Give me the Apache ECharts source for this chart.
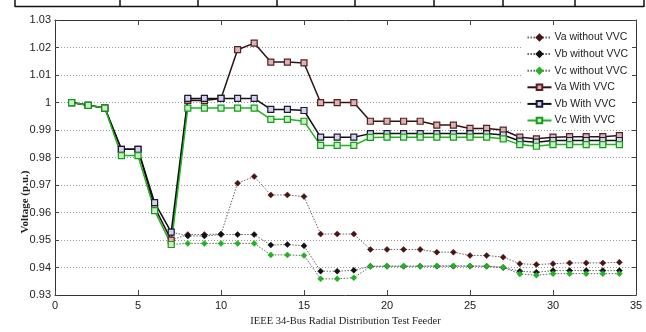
<!DOCTYPE html>
<html>
<head>
<meta charset="utf-8">
<script src="https://cdn.jsdelivr.net/npm/echarts@6/dist/echarts.min.js"></script>
<style>
html,body{margin:0;padding:0;background:#fff;}
#c{width:646px;height:332px;}
</style>
</head>
<body>
<div id="c"></div>
<script>
const buses = [1,2,3,4,5,6,7,8,9,10,11,12,13,14,15,16,17,18,19,20,21,22,23,24,25,26,27,28,29,30,31,32,33,34];
const seriesNames = ['Va without VVC','Vb without VVC','Vc without VVC','Va With VVC','Vb With VVC','Vc With VVC'];
const xTicks = [0,5,10,15,20,25,30,35];
const yTicks = [0.93,0.94,0.95,0.96,0.97,0.98,0.99,1.00,1.01,1.02,1.03];

const vaWithout = [1.000,0.999,0.998,0.983,0.983,0.962,0.950,0.9520,0.9520,0.9522,0.9707,0.9731,0.9664,0.9664,0.9658,0.9522,0.9522,0.9522,0.9466,0.9466,0.9466,0.9466,0.9456,0.9456,0.9444,0.9444,0.9438,0.9414,0.9411,0.9414,0.9417,0.9417,0.9417,0.9419];
const vbWithout = [1.000,0.999,0.998,0.983,0.983,0.9636,0.9529,0.9515,0.9515,0.9520,0.9520,0.9520,0.9482,0.9484,0.9479,0.9387,0.9387,0.9390,0.9405,0.9405,0.9405,0.9405,0.9405,0.9405,0.9405,0.9405,0.9400,0.9387,0.9383,0.9389,0.9389,0.9389,0.9389,0.9389];
const vcWithout = [1.000,0.999,0.998,0.9807,0.9807,0.9607,0.9484,0.9488,0.9488,0.9488,0.9488,0.9488,0.9446,0.9446,0.9444,0.9359,0.9359,0.9363,0.9404,0.9405,0.9405,0.9405,0.9406,0.9406,0.9406,0.9405,0.9401,0.9377,0.9372,0.9378,0.9378,0.9378,0.9378,0.9378];
const vaWith = [1.000,0.999,0.998,0.983,0.983,0.962,0.950,1.0008,1.0007,1.0015,1.0192,1.0216,1.0147,1.0147,1.0144,1.0000,1.0000,1.0000,0.9932,0.9932,0.9932,0.9932,0.9918,0.9918,0.9906,0.9906,0.9900,0.9874,0.9868,0.9874,0.9876,0.9876,0.9876,0.9880];
const vbWith = [1.000,0.999,0.998,0.983,0.983,0.9636,0.9529,1.0015,1.0015,1.0015,1.0015,1.0015,0.9975,0.9975,0.9971,0.9874,0.9874,0.9874,0.9887,0.9887,0.9887,0.9887,0.9887,0.9887,0.9887,0.9887,0.9882,0.9860,0.9856,0.9862,0.9862,0.9862,0.9862,0.9862];
const vcWith = [1.000,0.999,0.998,0.9807,0.9807,0.9607,0.9484,0.9980,0.9980,0.9980,0.9980,0.9980,0.9939,0.9939,0.9932,0.9844,0.9844,0.9844,0.9873,0.9874,0.9874,0.9874,0.9874,0.9874,0.9874,0.9874,0.9868,0.9847,0.9841,0.9847,0.9847,0.9847,0.9847,0.9847];

const pairs = arr => buses.map((b, i) => [b, arr[i]]);
const fmtY = v => String(parseFloat(Number(v).toFixed(2)));

function dottedSeries(name, arr, markColor) {
  return {
    name: name, type: 'line', data: pairs(arr),
    symbol: 'diamond', symbolSize: 6,
    lineStyle: {color: '#666', width: 1, type: [1.5, 1.5]},
    itemStyle: {color: markColor, borderColor: markColor, borderWidth: 0.5},
    emphasis: {disabled: true}
  };
}
function solidSeries(name, arr, lineColor, fill, border) {
  return {
    name: name, type: 'line', data: pairs(arr),
    symbol: 'rect', symbolSize: 6,
    lineStyle: {color: lineColor, width: 1.5},
    itemStyle: {color: fill, borderColor: border, borderWidth: 1.2},
    emphasis: {disabled: true}
  };
}

const chart = echarts.init(document.getElementById('c'), null, {renderer: 'canvas'});
const labelFont = {fontFamily: 'Liberation Sans, Arial, sans-serif', fontSize: 11, color: '#222'};

chart.setOption({
  animation: false,
  backgroundColor: '#fff',
  grid: {left: 55, right: 10, top: 20, bottom: 31, containLabel: false},
  legend: {
    orient: 'vertical', right: 14, top: 30,
    data: seriesNames,
    itemWidth: 24, itemHeight: 7, itemGap: 5.6,
    backgroundColor: '#fff', padding: [2, 4, 2, 4],
    textStyle: {fontFamily: 'Liberation Sans, Arial, sans-serif', fontSize: 10.5, color: '#222', padding: [0, 0, 0, -2]}
  },
  xAxis: [{
    type: 'value', min: xTicks[0], max: xTicks[xTicks.length - 1], interval: 5,
    name: 'IEEE 34-Bus Radial Distribution Test Feeder', nameLocation: 'middle', nameGap: 18,
    nameTextStyle: {fontFamily: 'Liberation Serif, Times New Roman, serif', fontSize: 10.5, color: '#222'},
    axisLine: {lineStyle: {color: '#333', width: 1}},
    axisTick: {inside: true, length: 5, lineStyle: {color: '#444'}},
    axisLabel: Object.assign({margin: 5}, labelFont),
    splitLine: {show: false}
  }, {
    type: 'value', position: 'top', min: xTicks[0], max: xTicks[xTicks.length - 1], interval: 5,
    axisLine: {show: true, onZero: false, lineStyle: {color: '#333', width: 1}},
    axisTick: {inside: true, length: 5, lineStyle: {color: '#444'}},
    axisLabel: {show: false}, splitLine: {show: false}
  }],
  yAxis: [{
    type: 'value', min: yTicks[0], max: yTicks[yTicks.length - 1], interval: 0.01,
    axisLine: {show: true, lineStyle: {color: '#333', width: 1}},
    axisTick: {show: true, inside: true, length: 4, lineStyle: {color: '#444'}},
    axisLabel: Object.assign({margin: 4, formatter: fmtY}, labelFont),
    splitLine: {show: true, lineStyle: {color: '#9a9a9a', width: 1, type: [1, 2]}}
  }, {
    type: 'value', position: 'right', min: yTicks[0], max: yTicks[yTicks.length - 1], interval: 0.01,
    axisLine: {show: true, onZero: false, lineStyle: {color: '#333', width: 1}},
    axisTick: {show: true, inside: true, length: 4, lineStyle: {color: '#444'}},
    axisLabel: {show: false}, splitLine: {show: false}
  }],
  graphic: [
    {type: 'text', x: 25, y: 202, rotation: Math.PI / 2,
     style: {text: 'Voltage (p.u.)', font: 'bold 11px "Liberation Serif", "Times New Roman", serif', fill: '#222', align: 'center', verticalAlign: 'middle'}},
    {type: 'line', shape: {x1: 15, y1: 6.5, x2: 644, y2: 6.5}, style: {stroke: '#111', lineWidth: 1.5}},
    {type: 'line', shape: {x1: 15, y1: 0, x2: 15, y2: 7}, style: {stroke: '#111', lineWidth: 1.5}},
    {type: 'line', shape: {x1: 120, y1: 0, x2: 120, y2: 7}, style: {stroke: '#111', lineWidth: 1.5}},
    {type: 'line', shape: {x1: 198, y1: 0, x2: 198, y2: 7}, style: {stroke: '#111', lineWidth: 1.5}},
    {type: 'line', shape: {x1: 277, y1: 0, x2: 277, y2: 7}, style: {stroke: '#111', lineWidth: 1.5}},
    {type: 'line', shape: {x1: 355, y1: 0, x2: 355, y2: 7}, style: {stroke: '#111', lineWidth: 1.5}},
    {type: 'line', shape: {x1: 434, y1: 0, x2: 434, y2: 7}, style: {stroke: '#111', lineWidth: 1.5}},
    {type: 'line', shape: {x1: 503, y1: 0, x2: 503, y2: 7}, style: {stroke: '#111', lineWidth: 1.5}},
    {type: 'line', shape: {x1: 575, y1: 0, x2: 575, y2: 7}, style: {stroke: '#111', lineWidth: 1.5}},
    {type: 'line', shape: {x1: 644, y1: 0, x2: 644, y2: 7}, style: {stroke: '#111', lineWidth: 1.5}}
  ],
  series: [
    dottedSeries(seriesNames[0], vaWithout, '#4a1414'),
    dottedSeries(seriesNames[1], vbWithout, '#111111'),
    dottedSeries(seriesNames[2], vcWithout, '#22b322'),
    solidSeries(seriesNames[3], vaWith, '#2a1414', '#d8b4b4', '#5a2020'),
    solidSeries(seriesNames[4], vbWith, '#111111', '#d4d4e6', '#1a1a3a'),
    solidSeries(seriesNames[5], vcWith, '#22b322', '#c8f0c8', '#1a9a1a')
  ]
});
</script>
</body>
</html>
